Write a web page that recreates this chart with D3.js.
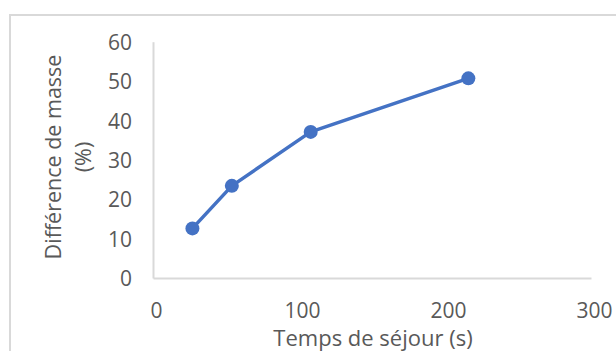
<!DOCTYPE html>
<html>
<head>
<meta charset="utf-8">
<script src="https://cdn.jsdelivr.net/npm/d3@7"></script>
<style>
  html, body { margin: 0; padding: 0; background: #fff; }
  svg { display: block; }
  text { font-family: "Open Sans", "Liberation Sans", sans-serif; fill: #595959; }
</style>
</head>
<body>
<svg id="chart" width="616" height="351"></svg>
<script>
const xValues = [27, 54, 108, 216];
const yValues = [12.6, 23.4, 37.1, 50.7];
const xTicks = [0, 100, 200, 300];
const yTicks = [0, 10, 20, 30, 40, 50, 60];
const xTitle = "Temps de séjour (s)";
const yTitleLines = ["Différence de masse", "(%)"];

(function () {
const svg = d3.select("#chart");
const W = 616, H = 351;
const mLeft = 153, mRight = 591, mTop = 41.7, mBottom = 278;

svg.append("rect").attr("x", 0).attr("y", 0).attr("width", W).attr("height", H).attr("fill", "#fff");
svg.append("path")
  .attr("d", `M10,${H+5} L10,15 L${W+5},15`)
  .attr("fill", "none").attr("stroke", "#d9d9d9").attr("stroke-width", 2);

const x = d3.scaleLinear().domain([0, 300]).range([mLeft, mRight]);
const y = d3.scaleLinear().domain([0, 60]).range([mBottom, mTop]);

const xAxis = svg.append("g").attr("transform", `translate(0,${mBottom})`)
  .call(d3.axisBottom(x).tickValues(xTicks).tickSize(0).tickPadding(0).tickFormat(d3.format("d")));
xAxis.select(".domain").attr("stroke", "#d9d9d9").attr("stroke-width", 2);
xAxis.selectAll(".tick text").attr("font-size", 21).attr("fill", "#595959")
  .attr("font-family", '"Open Sans", sans-serif')
  .attr("dy", null).attr("y", 40).attr("dx", 3);

const yAxis = svg.append("g").attr("transform", `translate(${mLeft},0)`)
  .call(d3.axisLeft(y).tickValues(yTicks).tickSize(0).tickPadding(21).tickFormat(d3.format("d")));
yAxis.select(".domain").attr("stroke", "#d9d9d9").attr("stroke-width", 2);
yAxis.selectAll(".tick text").attr("font-size", 21).attr("fill", "#595959")
  .attr("font-family", '"Open Sans", sans-serif')
  .attr("dy", "0.36em");

svg.append("text").attr("x", 373).attr("y", 346).attr("text-anchor", "middle")
  .attr("font-size", 22).text(xTitle);

const yt = svg.append("g").attr("transform", `translate(0,157) rotate(-90)`);
yt.selectAll("text").data(yTitleLines).enter().append("text")
  .attr("x", 0).attr("y", (d, i) => 61 + i * 30).attr("text-anchor", "middle")
  .attr("font-size", 21.5).text(d => d);

const data = xValues.map((v, i) => ({ x: v, y: yValues[i] }));
svg.append("path").datum(data)
  .attr("fill", "none").attr("stroke", "#4472c4").attr("stroke-width", 3.5)
  .attr("stroke-linejoin", "round")
  .attr("d", d3.line().x(d => x(d.x)).y(d => y(d.y)));
svg.selectAll("circle.pt").data(data).enter().append("circle")
  .attr("class", "pt").attr("cx", d => x(d.x)).attr("cy", d => y(d.y)).attr("r", 7)
  .attr("fill", "#4472c4");
})();
</script>
</body>
</html>
